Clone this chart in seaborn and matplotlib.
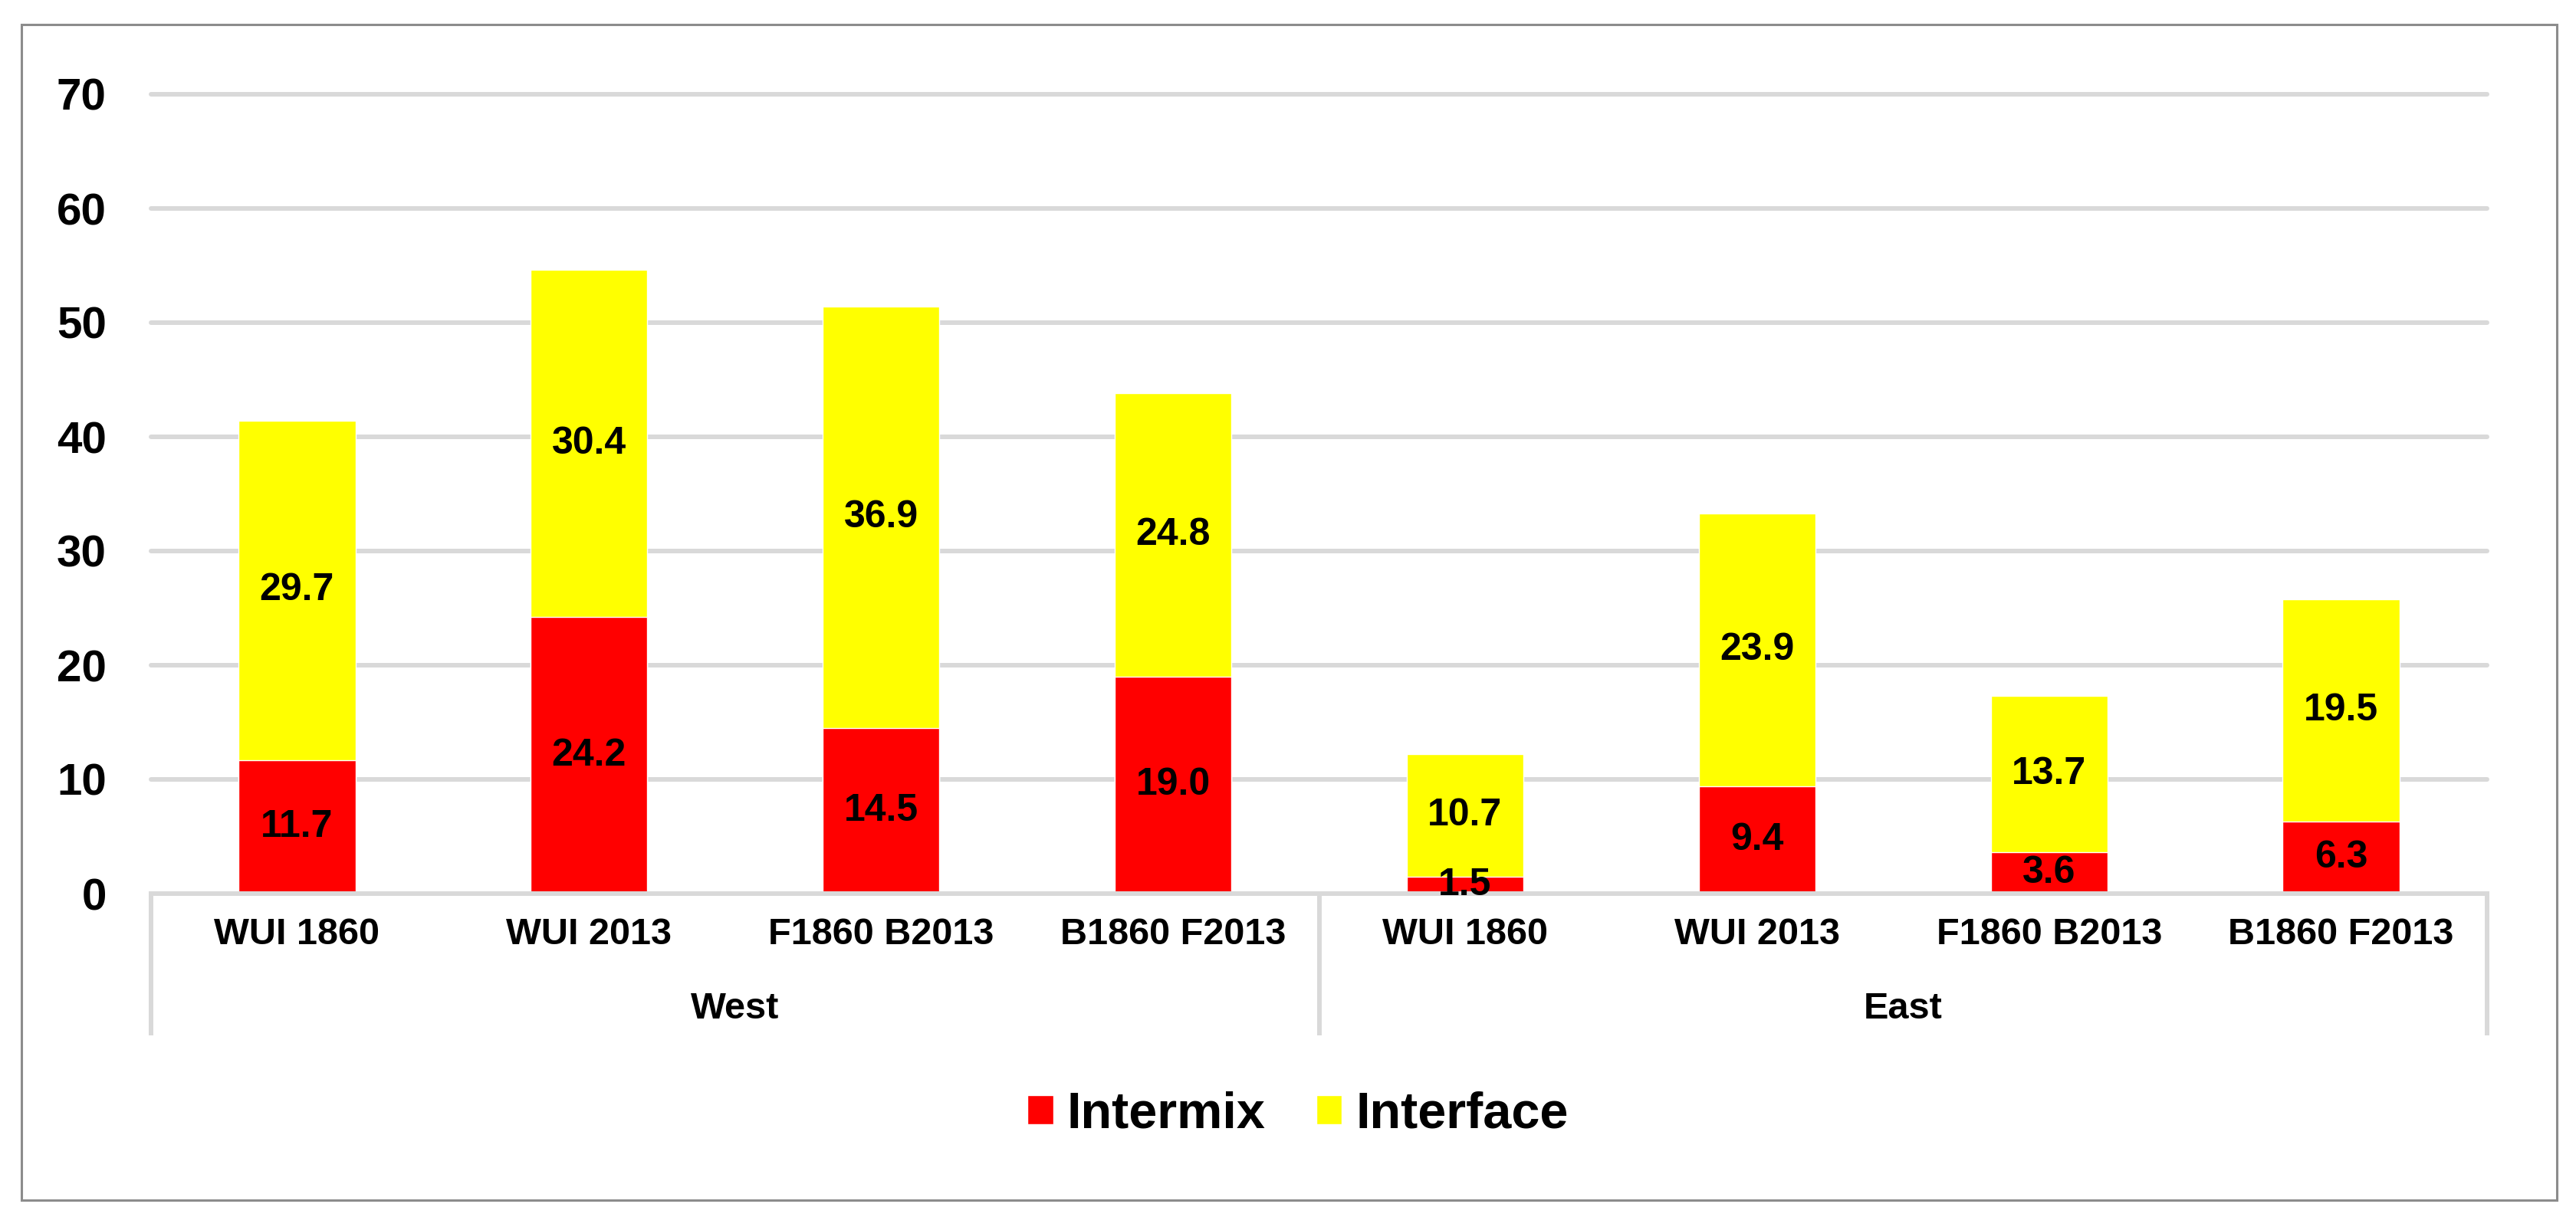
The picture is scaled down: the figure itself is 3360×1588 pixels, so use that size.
import matplotlib
matplotlib.use("Agg")
import matplotlib.pyplot as plt
from matplotlib.patches import Rectangle, Patch
import seaborn as sns
import pandas as pd

# data
regions = ["West", "West", "West", "West", "East", "East", "East", "East"]
scenarios = ["WUI 1860", "WUI 2013", "F1860 B2013", "B1860 F2013",
             "WUI 1860", "WUI 2013", "F1860 B2013", "B1860 F2013"]
intermix = [11.7, 24.2, 14.5, 19.0, 1.5, 9.4, 3.6, 6.3]
interface = [29.7, 30.4, 36.9, 24.8, 10.7, 23.9, 13.7, 19.5]
y_ticks = [0, 10, 20, 30, 40, 50, 60, 70]

RED = "#FF0000"
YELLOW = "#FFFF00"
GRID = "#D9D9D9"

df = pd.DataFrame({"region": regions, "scenario": scenarios,
                   "intermix": intermix, "interface": interface})
df["key"] = df["region"] + "|" + df["scenario"]
df["total"] = df["intermix"] + df["interface"]
order = list(df["key"])

sns.set_theme(style="white")
plt.rcParams["font.family"] = ["Liberation Sans", "DejaVu Sans"]
plt.rcParams["font.weight"] = "bold"
plt.rcParams["text.color"] = "black"
plt.rcParams["xtick.color"] = "black"
plt.rcParams["ytick.color"] = "black"

fig = plt.figure(figsize=(33.6, 15.88), dpi=100)
ax = fig.add_axes([197 / 3360, 1 - 1166 / 1588, (3244 - 197) / 3360, (1166 - 123) / 1588])

# yellow = full stack, red drawn over it
sns.barplot(data=df, x="key", y="total", order=order, color=YELLOW,
            saturation=1, width=0.4, ax=ax, zorder=3)
sns.barplot(data=df, x="key", y="intermix", order=order, color=RED,
            saturation=1, width=0.4, ax=ax, zorder=4)

ax.set_ylim(0, 70)
ax.set_xlim(-0.5, len(order) - 0.5)
ax.set_yticks(y_ticks)
ax.set_xlabel("")
ax.set_ylabel("")
ax.set_xticks(range(len(order)))
ax.set_xticklabels(df["scenario"])
ax.tick_params(axis="y", length=0, pad=42, labelsize=42, labelcolor="black")
ax.tick_params(axis="x", length=0, pad=22, labelsize=35, labelcolor="black")
for lab in ax.get_xticklabels() + ax.get_yticklabels():
    lab.set_fontweight("bold")

ax.yaxis.grid(True, color=GRID, linewidth=4.3, zorder=0)
for gl in ax.get_ygridlines():
    gl.set_clip_on(False)
ax.set_axisbelow(True)
for s in ["top", "right", "left"]:
    ax.spines[s].set_visible(False)
ax.spines["bottom"].set_color(GRID)
ax.spines["bottom"].set_linewidth(4.3)
ax.spines["bottom"].set_zorder(5)

# data labels
red_bars = ax.containers[1]
ax.bar_label(red_bars, labels=[f"{v:.1f}" for v in df["intermix"]],
             label_type="center", fontsize=36, fontweight="bold", color="black", zorder=6)
for patch, lo, hi in zip(red_bars, df["intermix"], df["interface"]):
    xc = patch.get_x() + patch.get_width() / 2
    ax.text(xc, lo + hi / 2, f"{hi:.1f}", ha="center", va="center",
            fontsize=36, fontweight="bold", color="black", zorder=6)

# group separators and region labels
trans = ax.get_xaxis_transform()
n_per = 4
for xs in [-0.5, n_per - 0.5, len(order) - 0.5]:
    ax.plot([xs, xs], [0, -0.177], transform=trans, color=GRID,
            linewidth=4.3, clip_on=False, solid_capstyle="butt")
for g, name in enumerate(["West", "East"]):
    ax.text(g * n_per + (n_per - 1) / 2, -0.144, name, transform=trans,
            ha="center", va="center", fontsize=35, fontweight="bold", color="black")

# legend
handles = [Patch(facecolor=RED, label="Intermix"), Patch(facecolor=YELLOW, label="Interface")]
fig.legend(handles=handles, loc="center", bbox_to_anchor=(1693 / 3360, 1 - 1455 / 1588),
           ncol=2, frameon=False, prop={"size": 48, "weight": "bold"},
           handlelength=0.5, handleheight=0.5, handletextpad=0.27, columnspacing=1.0,
           labelcolor="black")

# outer chart border
fig.patches.append(Rectangle((28 / 3360, 1 - 1566 / 1588), (3335 - 28) / 3360, (1566 - 32) / 1588,
                             transform=fig.transFigure, fill=False,
                             edgecolor="#8C8C8C", linewidth=2.2))

fig.savefig("out.png", dpi=100, facecolor="white")
